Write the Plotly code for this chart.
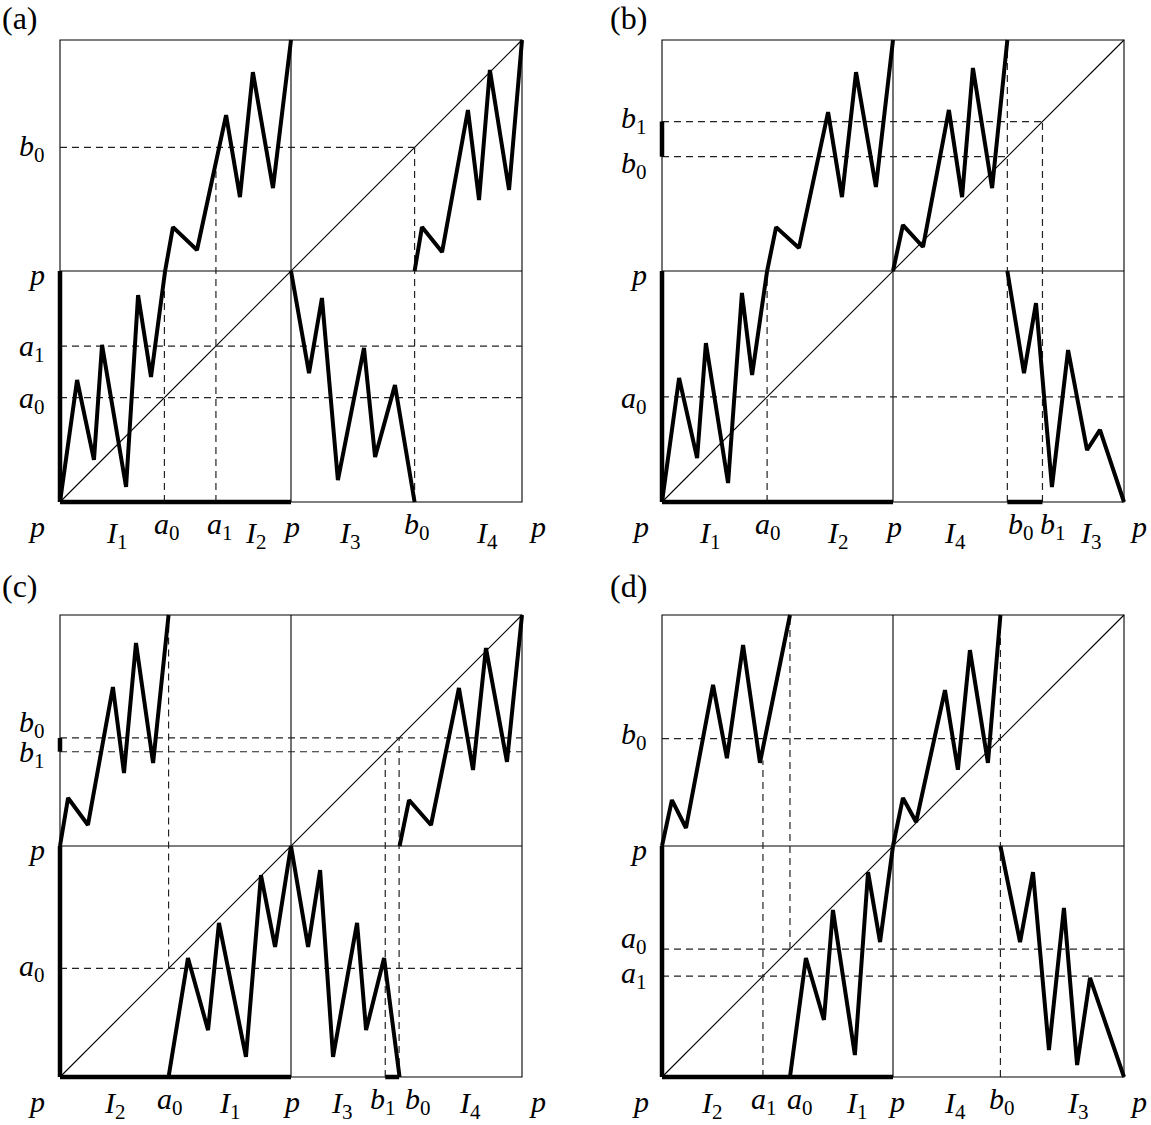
import plotly.graph_objects as go

# ---------------- data (unit square: p = 0, 1, 2) ----------------
# Panel (a)
A_a0, A_a1, A_b0 = 0.452, 0.675, 1.535
A_a1_top = 1.47
A_UL_X = [0.455, 0.489, 0.593, 0.719, 0.779, 0.835, 0.922, 1.0]
A_UL_Y = [1.0, 1.190, 1.091, 1.675, 1.320, 1.861, 1.359, 2.0]
A_UR_X = [1.535, 1.567, 1.654, 1.766, 1.814, 1.861, 1.944, 2.0]
A_UR_Y = [1.0, 1.190, 1.082, 1.697, 1.307, 1.870, 1.351, 2.0]
A_LL_X = [0.0, 0.074, 0.147, 0.182, 0.286, 0.338, 0.394, 0.455]
A_LL_Y = [0.0, 0.528, 0.182, 0.680, 0.065, 0.896, 0.541, 1.0]
A_LR_X = [1.0, 1.078, 1.134, 1.203, 1.316, 1.364, 1.450, 1.535]
A_LR_Y = [1.0, 0.558, 0.883, 0.095, 0.667, 0.195, 0.506, 0.0]

# Panel (b)
B_a0, B_b0, B_b1 = 0.455, 1.495, 1.647
B_UL_X = [0.455, 0.494, 0.593, 0.719, 0.779, 0.840, 0.926, 1.0]
B_UL_Y = [1.0, 1.190, 1.100, 1.688, 1.320, 1.861, 1.364, 2.0]
B_UR_X = [1.0, 1.043, 1.130, 1.242, 1.299, 1.346, 1.429, 1.495]
B_UR_Y = [1.0, 1.199, 1.104, 1.697, 1.320, 1.879, 1.359, 2.0]
B_LL_X = [0.0, 0.074, 0.152, 0.190, 0.286, 0.346, 0.390, 0.455]
B_LL_Y = [0.0, 0.537, 0.190, 0.688, 0.082, 0.905, 0.550, 1.0]
B_LR_X = [1.495, 1.567, 1.619, 1.688, 1.758, 1.840, 1.896, 2.0]
B_LR_Y = [1.0, 0.558, 0.861, 0.065, 0.658, 0.225, 0.312, 0.0]

# Panel (c)
C_a0, C_b0, C_b1 = 0.470, 1.468, 1.408
C_UL_X = [0.0, 0.035, 0.121, 0.229, 0.277, 0.329, 0.403, 0.470]
C_UL_Y = [1.0, 1.208, 1.091, 1.688, 1.316, 1.879, 1.359, 2.0]
C_UR_X = [1.470, 1.511, 1.606, 1.727, 1.788, 1.844, 1.935, 2.0]
C_UR_Y = [1.0, 1.199, 1.091, 1.684, 1.329, 1.857, 1.364, 2.0]
C_LL_X = [0.470, 0.554, 0.641, 0.688, 0.805, 0.870, 0.931, 1.0]
C_LL_Y = [0.0, 0.515, 0.203, 0.667, 0.087, 0.874, 0.563, 1.0]
C_LR_X = [1.0, 1.074, 1.126, 1.182, 1.286, 1.325, 1.403, 1.470]
C_LR_Y = [1.0, 0.563, 0.896, 0.087, 0.667, 0.203, 0.515, 0.0]

# Panel (d)
D_a0, D_a1, D_b0 = 0.554, 0.437, 1.465
D_a1_top = 1.37
D_UL_X = [0.0, 0.043, 0.104, 0.221, 0.281, 0.351, 0.424, 0.554]
D_UL_Y = [1.0, 1.199, 1.078, 1.697, 1.380, 1.870, 1.360, 2.0]
D_UR_X = [1.0, 1.043, 1.100, 1.225, 1.281, 1.333, 1.411, 1.465]
D_UR_Y = [1.0, 1.208, 1.104, 1.675, 1.330, 1.848, 1.360, 2.0]
D_LL_X = [0.554, 0.623, 0.701, 0.740, 0.835, 0.892, 0.944, 1.0]
D_LL_Y = [0.0, 0.515, 0.247, 0.723, 0.095, 0.887, 0.584, 1.0]
D_LR_X = [1.465, 1.550, 1.606, 1.675, 1.740, 1.797, 1.853, 2.0]
D_LR_Y = [1.0, 0.584, 0.887, 0.117, 0.732, 0.052, 0.429, 0.0]

# tick-like labels: (text, position)
A_XLAB = [("p", -0.10), ("I1", 0.247), ("a0", 0.463), ("a1", 0.693), ("I2", 0.848),
          ("p", 1.0), ("I3", 1.255), ("b0", 1.545), ("I4", 1.848), ("p", 2.069)]
A_YLAB = [("b0", 1.532), ("p", 0.985), ("a1", 0.667), ("a0", 0.442)]
B_XLAB = [("p", -0.095), ("I1", 0.208), ("a0", 0.459), ("I2", 0.762), ("p", 1.0),
          ("I4", 1.268), ("b0", 1.554), ("b1", 1.693), ("I3", 1.857), ("p", 2.061)]
B_YLAB = [("b1", 1.654), ("b0", 1.459), ("p", 0.985), ("a0", 0.442)]
C_XLAB = [("p", -0.10), ("I2", 0.238), ("a0", 0.476), ("I1", 0.736), ("p", 1.0),
          ("I3", 1.221), ("b1", 1.398), ("b0", 1.550), ("I4", 1.775), ("p", 2.069)]
C_YLAB = [("b0", 1.528), ("b1", 1.398), ("p", 0.985), ("a0", 0.472)]
D_XLAB = [("p", -0.095), ("I2", 0.216), ("a1", 0.442), ("a0", 0.597), ("I1", 0.844),
          ("p", 1.013), ("I4", 1.268), ("b0", 1.472), ("I3", 1.801), ("p", 2.061)]
D_YLAB = [("b0", 1.476), ("p", 0.985), ("a0", 0.593), ("a1", 0.442)]

PANEL_TITLES = ["(a)", "(b)", "(c)", "(d)"]

# dashed segments (x0, y0, x1, y1) and thick edge segments
A_DASH = [(0, A_a0, 2, A_a0), (0, A_a1, 2, A_a1), (0, A_b0, A_b0, A_b0),
          (A_a0, 0, A_a0, 1), (A_a1, 0, A_a1, A_a1_top), (A_b0, 0, A_b0, A_b0)]
A_THICK = [(0, 0, 0, 1), (0, 0, 1, 0)]
B_DASH = [(0, B_a0, 2, B_a0), (0, B_b0, B_b0, B_b0), (0, B_b1, B_b1, B_b1),
          (B_a0, 0, B_a0, 1), (B_b0, 0, B_b0, 2), (B_b1, 0, B_b1, B_b1)]
B_THICK = [(0, 0, 0, 1), (0, 0, 1, 0), (B_b0, 0, B_b1, 0), (0, B_b0, 0, B_b1)]
C_DASH = [(0, C_a0, 2, C_a0), (0, C_b0, 2, C_b0), (0, C_b1, 2, C_b1),
          (C_a0, C_a0, C_a0, 2), (C_b0, 0, C_b0, C_b0), (C_b1, 0, C_b1, C_b1)]
C_THICK = [(0, 0, 0, 1), (0, 0, 1, 0), (C_b1, 0, C_b0, 0), (0, C_b1, 0, C_b0)]
D_DASH = [(0, D_a0, 2, D_a0), (0, D_a1, 2, D_a1), (0, D_b0, D_b0, D_b0),
          (D_a0, D_a0, D_a0, 2), (D_a1, 0, D_a1, D_a1_top), (D_b0, 0, D_b0, 2)]
D_THICK = [(0, 0, 0, 1), (0, 0, 1, 0)]

PANELS = [
    dict(curves=[(A_UL_X, A_UL_Y), (A_UR_X, A_UR_Y), (A_LL_X, A_LL_Y), (A_LR_X, A_LR_Y)],
         dash=A_DASH, thick=A_THICK, xlab=A_XLAB, ylab=A_YLAB, title_v=2.095, title_u=-0.173,
         i_off=-0.145),
    dict(curves=[(B_UL_X, B_UL_Y), (B_UR_X, B_UR_Y), (B_LL_X, B_LL_Y), (B_LR_X, B_LR_Y)],
         dash=B_DASH, thick=B_THICK, xlab=B_XLAB, ylab=B_YLAB, title_v=2.095, title_u=-0.143,
         i_off=-0.145),
    dict(curves=[(C_UL_X, C_UL_Y), (C_UR_X, C_UR_Y), (C_LL_X, C_LL_Y), (C_LR_X, C_LR_Y)],
         dash=C_DASH, thick=C_THICK, xlab=C_XLAB, ylab=C_YLAB, title_v=2.125, title_u=-0.173,
         i_off=-0.12),
    dict(curves=[(D_UL_X, D_UL_Y), (D_UR_X, D_UR_Y), (D_LL_X, D_LL_Y), (D_LR_X, D_LR_Y)],
         dash=D_DASH, thick=D_THICK, xlab=D_XLAB, ylab=D_YLAB, title_v=2.125, title_u=-0.143,
         i_off=-0.12),
]

# ---------------- layout geometry ----------------
W, H = 1151, 1125
UNIT = 231.0
PAD = 0.08
ORIGINS = [(60, 502), (662, 502), (60, 1077), (662, 1077)]  # pixel of (p,p) corner

FAM = "Liberation Serif, DejaVu Serif, serif"
FONT = dict(family=FAM, size=30, color="black")


def fmt(t):
    if t == "p":
        return "<i>p</i>"
    return "<i>%s</i><sub>%s</sub>" % (t[0], t[1:])


def segs(lst):
    xs, ys = [], []
    for (x0, y0, x1, y1) in lst:
        xs += [x0, x1, None]
        ys += [y0, y1, None]
    return xs, ys


def clamp(v):
    return max(0.0, min(1.0, v))


fig = go.Figure()
annotations = []
layout_axes = {}

for i, P in enumerate(PANELS):
    k = "" if i == 0 else str(i + 1)
    xa, ya = "x" + k, "y" + k
    ox, oy = ORIGINS[i]
    xdom = [clamp((ox - PAD * UNIT) / W), clamp((ox + (2 + PAD) * UNIT) / W)]
    ydom = [clamp(1 - (oy + PAD * UNIT) / H), clamp(1 - (oy - (2 + PAD) * UNIT) / H)]
    ax_common = dict(range=[-PAD, 2 + PAD], visible=False, showgrid=False,
                     zeroline=False, fixedrange=True)
    layout_axes["xaxis" + k] = dict(domain=xdom, anchor=ya, **ax_common)
    layout_axes["yaxis" + k] = dict(domain=ydom, anchor=xa, **ax_common)

    def px(u, ox=ox):
        return (ox + u * UNIT) / W

    def py(v, oy=oy):
        return 1 - (oy - v * UNIT) / H

    # frame: box, mid lines, diagonal
    fig.add_trace(go.Scatter(
        x=[0, 2, 2, 0, 0, None, 1, 1, None, 0, 2, None, 0, 2],
        y=[0, 0, 2, 2, 0, None, 0, 2, None, 1, 1, None, 0, 2],
        mode="lines", line=dict(color="black", width=1.1),
        xaxis=xa, yaxis=ya, hoverinfo="skip", showlegend=False))
    # dashed guides
    dx, dy = segs(P["dash"])
    fig.add_trace(go.Scatter(
        x=dx, y=dy, mode="lines",
        line=dict(color="#222222", width=1.2, dash="7px,5px"),
        xaxis=xa, yaxis=ya, hoverinfo="skip", showlegend=False))
    # thick edge intervals
    tx, ty = segs(P["thick"])
    fig.add_trace(go.Scatter(
        x=tx, y=ty, mode="lines", line=dict(color="black", width=4.5),
        xaxis=xa, yaxis=ya, hoverinfo="skip", showlegend=False))
    # graph of the map
    for cx, cy in P["curves"]:
        fig.add_trace(go.Scatter(
            x=cx, y=cy, mode="lines", line=dict(color="black", width=4),
            xaxis=xa, yaxis=ya, hoverinfo="skip", showlegend=False))

    # labels (placed in paper coordinates so they are not hidden outside axis range)
    for t, u in P["xlab"]:
        v = P["i_off"] if t.startswith("I") else -0.105
        annotations.append(dict(x=px(u), y=py(v), xref="paper", yref="paper",
                                text=fmt(t), showarrow=False, font=FONT,
                                xanchor="center", yanchor="middle"))
    for t, v in P["ylab"]:
        annotations.append(dict(x=px(-0.055), y=py(v), xref="paper", yref="paper",
                                text=fmt(t), showarrow=False, font=FONT,
                                xanchor="right", yanchor="middle"))
    annotations.append(dict(x=px(P["title_u"]), y=py(P["title_v"]),
                            xref="paper", yref="paper",
                            text=PANEL_TITLES[i], showarrow=False,
                            font=dict(family=FAM, size=32, color="black"),
                            xanchor="center", yanchor="middle"))

fig.update_layout(
    width=W, height=H, autosize=False,
    margin=dict(l=0, r=0, t=0, b=0),
    paper_bgcolor="white", plot_bgcolor="white",
    annotations=annotations,
    **layout_axes,
)

# remove the default page margin so the figure sits at the window's top-left corner
fig.write_html("out.html", config={"displayModeBar": False},
               post_script="document.body.style.margin='0px';")
